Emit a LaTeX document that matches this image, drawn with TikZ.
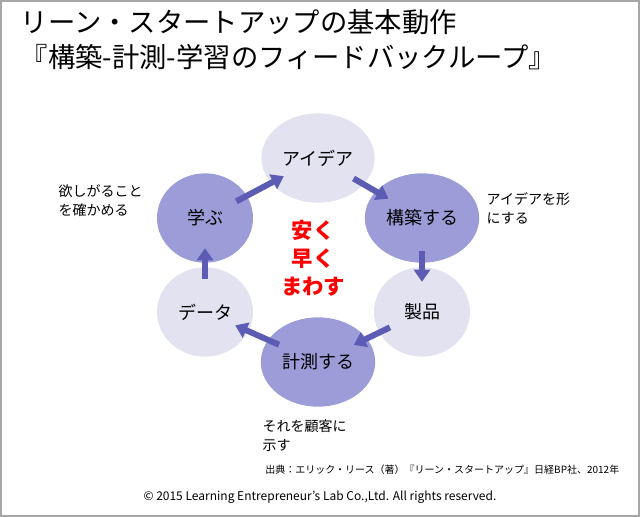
\documentclass[tikz,border=0pt]{standalone}
\usepackage{fontspec}
\setmainfont{Noto Sans CJK JP}
\usepackage{tikz}
\usetikzlibrary{shapes.geometric,arrows.meta}
\definecolor{lightc}{HTML}{E2E2F0}
\definecolor{darkc}{HTML}{9C9CD8}
\definecolor{arrowc}{HTML}{5C5CB4}
\tikzset{
  light/.style={ellipse, fill=lightc, minimum width=72pt, minimum height=67pt, font=\fontsize{13.5}{16}\selectfont},
  dark/.style={light, fill=darkc},
  note/.style={anchor=north west, align=left, font=\fontsize{10.5}{14}\selectfont}
}
\begin{document}
\begin{tikzpicture}[x=0.75pt,y=-0.75pt]
			\useasboundingbox (0,0) rectangle (640,517);
			\draw[gray!70, line width=1pt] (1,1) rectangle (639,516);
			\node[anchor=north west, align=left, font=\fontsize{20.5}{26}\selectfont] (title) at (16,5)
				{リーン・スタートアップの基本動作\\『構築-計測-学習のフィードバックループ』};
			\node[light] (idea) at (318,158) {アイデア};
			\node[dark] (build) at (422,218) {構築する};
			\node[light] (product) at (422,312) {製品};
			\node[dark] (measure) at (318,362) {計測する};
			\node[light] (data) at (205,312) {データ};
			\node[dark] (learn) at (205,218) {学ぶ};
			\node[text=red, font=\fontsize{16}{21}\selectfont\bfseries, align=center] (core) at (313,258) {安く\\早く\\まわす};
			\path[-{Triangle[length=9pt,width=12pt]}, arrowc, line width=4.5pt, shorten <=-9pt, shorten >=-11pt]
			(learn) edge (idea)
			(idea) edge (build)
			(build) edge (product)
			(product) edge (measure)
			(measure) edge (data)
			(data) edge (learn);
			\node[note] (learnnote) at (54,180) {欲しがること\\を確かめる};
			\node[note] (buildnote) at (482,188) {アイデアを形\\にする};
			\node[note] (measurenote) at (258,415) {それを顧客に\\示す};
			\node[anchor=east, font=\fontsize{7.5}{9}\selectfont] (source) at (624,470) {出典：エリック・リース（著）『リーン・スタートアップ』日経BP社、2012年};
			\node[font=\fontsize{9}{11}\selectfont] (copy) at (320,497) {© 2015 Learning Entrepreneur's Lab Co.,Ltd. All rights reserved.};
		\end{tikzpicture}
\end{document}
